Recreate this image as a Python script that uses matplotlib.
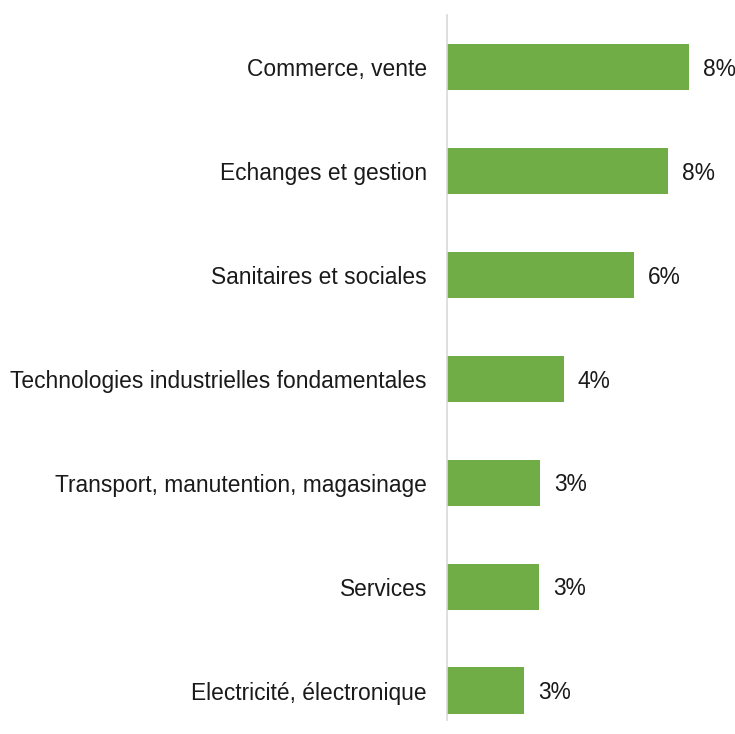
import matplotlib.pyplot as plt

# categories top to bottom, values in %
categories = ["Commerce, vente", "Echanges et gestion", "Sanitaires et sociales",
              "Technologies industrielles fondamentales",
              "Transport, manutention, magasinage", "Services",
              "Electricité, électronique"]
values = [8.26, 7.54, 6.38, 3.98, 3.18, 3.14, 2.62]

plt.rcParams['font.family'] = ['Liberation Sans', 'DejaVu Sans']

fig = plt.figure(figsize=(7.35, 7.34), dpi=100)
W, H = 735, 734
# axes from x=447 px, top at 15 px, bottom at 720 px
ax = fig.add_axes([447 / W, 1 - 720 / H, 287 / W, 705 / H])

y = list(range(len(categories)))
ax.barh(y, values, height=0.45, color='#70AD47')
for yi, v in zip(y, values):
    ax.text(v + 0.48, yi + 0.02, f"{v:.0f}%", va='center', ha='left', fontsize=16.4, color='#1a1a1a')

ax.set_ylim(6.28, -0.5)
ax.set_xlim(0, 9.8)
ax.set_yticks(y)
ax.set_yticklabels(categories, fontsize=16.4, color='#1a1a1a')
ax.tick_params(axis='y', length=0, pad=14.4)
ax.set_xticks([])
for s in ['top', 'right', 'bottom']:
    ax.spines[s].set_visible(False)
ax.spines['left'].set_color('#d9d9d9')
ax.spines['left'].set_linewidth(1.2)

fig.savefig('out.png', dpi=100)
